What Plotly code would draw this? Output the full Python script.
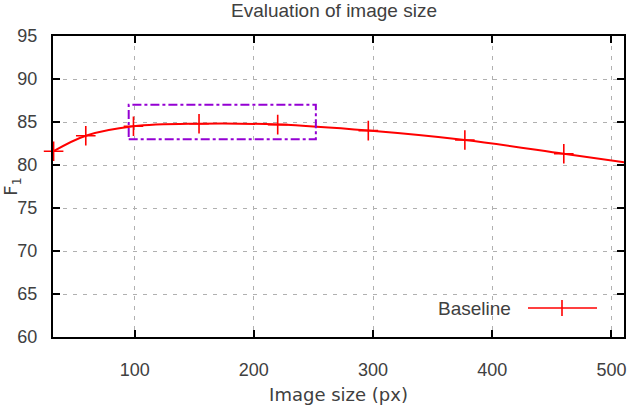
import plotly.graph_objects as go

# Data
image_size = [32, 59, 99, 154, 220, 296, 377, 460]
f1_score = [81.6, 83.4, 84.5, 84.8, 84.7, 84.0, 82.9, 81.3]
curve_end_x = [511]
curve_end_y = [80.3]
box_x = [95, 252]
box_y = [83, 87]
x_ticks = [100, 200, 300, 400, 500]
y_ticks = [60, 65, 70, 75, 80, 85, 90, 95]

RED = "#ff0000"
TXT = "#404040"
FONT = "Liberation Sans, Arial, sans-serif"
FONT2 = "DejaVu Sans, sans-serif"

fig = go.Figure()

# smooth curve
fig.add_trace(go.Scatter(
    x=image_size + curve_end_x, y=f1_score + curve_end_y,
    mode="lines", line=dict(color=RED, width=2, shape="spline", smoothing=1.0),
    showlegend=False, hoverinfo="skip", cliponaxis=True))
# measured points
fig.add_trace(go.Scatter(
    x=image_size, y=f1_score, mode="markers", name="Baseline",
    marker=dict(symbol="cross-thin", size=14, line=dict(color=RED, width=1.6)),
    showlegend=False, cliponaxis=False))

# highlighted region
fig.add_shape(type="rect", x0=box_x[0], x1=box_x[1], y0=box_y[0], y1=box_y[1],
              line=dict(color="#9400d3", width=2, dash="dashdot"), layer="above")

# key background (hides grid like gnuplot key)
fig.add_shape(type="rect", xref="paper", yref="paper", x0=0.61, x1=0.985, y0=0.03, y1=0.16,
              fillcolor="white", line=dict(width=0), layer="between")
# key sample  (plot area spans x 53..624, y 36..337)
fig.add_shape(type="line", xref="paper", yref="paper", x0=(528-53)/571, x1=(597-53)/571,
              y0=(337-308)/301, y1=(337-308)/301, line=dict(color=RED, width=1.6))
fig.add_shape(type="line", xref="paper", yref="paper", x0=(562-53)/571, x1=(562-53)/571,
              y0=(337-316)/301, y1=(337-300)/301, line=dict(color=RED, width=1.6))
fig.add_annotation(xref="paper", yref="paper", x=(513-53)/571, y=(337-308)/301, text="Baseline",
                   showarrow=False, xanchor="right", yanchor="middle",
                   font=dict(family=FONT, size=19, color=TXT))

axis_common = dict(
    showline=True, linecolor="black", linewidth=2, mirror="allticks",
    ticks="inside", ticklen=7, tickwidth=2, tickcolor="black",
    showgrid=True, gridcolor="#b0b0b0", gridwidth=1, griddash="4px,6px",
    zeroline=False, tickfont=dict(family=FONT, size=18, color=TXT),
    automargin=False,
)

fig.update_xaxes(range=[31.5, 510.5], tickvals=x_ticks, ticklabelstandoff=15,
                 title=dict(text="Image size (px)", standoff=10,
                            font=dict(family=FONT2, size=18, color=TXT)),
                 **axis_common)
fig.update_yaxes(range=[60, 95], tickvals=y_ticks, ticklabelstandoff=10,
                 title=dict(text="F<sub>1</sub>", standoff=5,
                            font=dict(family=FONT2, size=18, color=TXT)),
                 **axis_common)

fig.update_layout(
    width=636, height=405,
    margin=dict(l=53, r=12, t=36, b=68, autoexpand=False),
    plot_bgcolor="white", paper_bgcolor="white",
    title=dict(text="Evaluation of image size", x=334/636, xanchor="center",
               y=1 - 10/405, yanchor="middle", automargin=False,
               font=dict(family=FONT, size=19, color=TXT)),
    showlegend=False,
)

fig.write_html("out.html")
